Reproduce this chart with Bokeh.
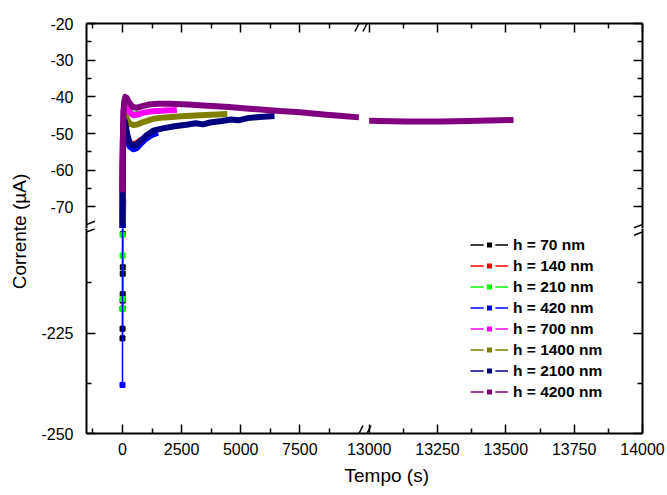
import math
import numpy as np
from bokeh.plotting import figure
from bokeh.models import (Range1d, LinearAxis, FixedTicker, CustomJSTickFormatter,
                          Label, Arrow, Legend, LegendItem)
from bokeh.layouts import row, column
from bokeh.embed import file_html
from bokeh.resources import INLINE

# ---------------- data ----------------
series_names = ["h = 70 nm", "h = 140 nm", "h = 210 nm", "h = 420 nm",
                "h = 700 nm", "h = 1400 nm", "h = 2100 nm", "h = 4200 nm"]
series_colors = ["#000000", "#FF0000", "#00FF00", "#0000FF",
                 "#FF00FF", "#808000", "#000080", "#800080"]

t_70 = [0, 2, 4, 6, 8, 10, 12, 14, 18, 30]
i_70 = [-226.3, -223.9, -218.9, -216.9, -215.3, -210.2, -208.6, -200.3, -75.0, -68.0]

t_140 = [0, 3, 8, 15, 30, 60, 100, 150, 250, 400, 600, 800]
i_140 = [-74.0, -66.0, -58.0, -52.0, -48.0, -47.0, -48.0, -50.0, -52.0, -53.0, -52.6, -51.6]

t_210 = [0, 2, 4, 6, 10, 16, 28, 50, 90, 140, 200, 300, 420, 560, 700]
i_210 = [-219.0, -216.5, -205.7, -200.5, -70.0, -60.0, -50.0, -44.0, -41.6, -41.5, -42.6, -44.0, -44.8, -44.8, -44.5]

t_420 = [0, 4, 10, 20, 40, 80, 130, 200, 300, 450, 600, 800, 1000, 1250, 1500]
i_420 = [-237.9, -72.0, -62.0, -55.0, -50.0, -48.5, -49.5, -51.5, -53.5, -54.3, -54.0, -52.6, -51.4, -50.4, -49.8]

t_700 = [0, 5, 12, 25, 50, 90, 140, 200, 300, 450, 650, 900, 1300, 1800, 2300]
i_700 = [-71.0, -63.0, -55.0, -48.0, -43.5, -41.5, -41.8, -42.8, -44.2, -45.0, -44.8, -44.3, -43.9, -43.7, -43.6]

t_1400 = [0, 5, 12, 25, 50, 90, 140, 220, 330, 480, 650, 900, 1300, 1800, 2500, 3300, 4000, 4430]
i_1400 = [-75.5, -69.0, -61.0, -53.0, -47.5, -45.0, -45.2, -46.5, -47.4, -47.7, -47.5, -46.8, -46.0, -45.6, -45.3, -45.0, -44.8, -44.7]

t_2100 = [0, 5, 12, 25, 50, 90, 140, 200, 300, 450, 600, 800, 1000, 1300, 1700, 2200,
          2700, 3100, 3400, 3700, 4200, 4600, 4900, 5300, 5800, 6430]
i_2100 = [-76.0, -67.0, -59.0, -52.0, -47.5, -46.5, -48.0, -50.2, -52.5, -53.3, -53.0, -51.8,
          -50.6, -49.2, -48.6, -48.0, -47.6, -47.2, -47.5, -47.0, -46.6, -46.2, -46.4, -45.8, -45.5, -45.2]

t_4200 = [0, 5, 12, 25, 45, 75, 120, 180, 280, 420, 600, 800, 1100, 1500, 2000, 2800, 3600,
          4500, 5500, 6500, 7500, 8500, 9300, 10000,
          13000, 13130, 13270, 13400, 13528]
i_4200 = [-66.0, -60.0, -54.0, -48.0, -44.0, -41.2, -40.0, -40.3, -41.6, -42.7, -43.0, -42.6,
          -42.1, -41.9, -41.9, -42.1, -42.4, -42.8, -43.3, -43.8, -44.2, -44.8, -45.2, -45.6,
          -46.5, -46.7, -46.7, -46.5, -46.3]

times = [t_70, t_140, t_210, t_420, t_700, t_1400, t_2100, t_4200]
currents = [i_70, i_140, i_210, i_420, i_700, i_1400, i_2100, i_4200]

x_major_left = [0, 2500, 5000, 7500]
x_minor_left = [-1250, 1250, 3750, 6250, 8750]
x_major_right = [13000, 13250, 13500, 13750, 14000]
x_minor_right = [13125, 13375, 13625, 13875]
y_major_top = [-70, -60, -50, -40, -30, -20]
y_minor_top = [-65, -55, -45, -35, -25]
y_major_bottom = [-250, -225]
y_minor_bottom = [-237.5, -212.5]
x_break = [10000, 13000]

x_title = "Tempo (s)"
y_title = "Corrente (µA)"

# ---------------- layout ----------------
FONT = "Liberation Sans"
TITLE_W = 30
BORDER_L = 56
BORDER_R = 25
BORDER_T = 23
BORDER_B = 27
XTITLE_H = 35
FRAME_W = 556
FRAME_H = 205
FL = TITLE_W + BORDER_L          # frame left in page px
FT = BORDER_T                    # frame top
FM = FT + FRAME_H                # row boundary
FB = FM + FRAME_H                # frame bottom
TOTAL_H = FB + BORDER_B + XTITLE_H
RIGHT_W = BORDER_L + FRAME_W + BORDER_R

# ranges (left segment on main range, right segment on extra range)
X0, X1 = -1522.6, 21992.4
R0, R1 = 11965.8, 14000.0
YT = (-75.9, -20.0)
YB = (-250.0, -198.95)


def P(t):
    return X0 + (t - R0) * (X1 - X0) / (R1 - R0)


def xm(px):
    return X0 + (px - FL) * (X1 - X0) / FRAME_W


def yt(py):
    return YT[1] - (py - FT) * (YT[1] - YT[0]) / FRAME_H


def yb(py):
    return YB[0] + (FB - py) * (YB[1] - YB[0]) / FRAME_H


x_ticker = FixedTicker(ticks=x_major_left + [P(t) for t in x_major_right],
                       minor_ticks=x_minor_left + [P(t) for t in x_minor_right])
x_fmt = CustomJSTickFormatter(args=dict(BRK=float(P(x_break[1]) - 100), X0=X0, X1=X1, R0=R0, R1=R1),
                              code="""
if (tick > BRK) { return String(Math.round(R0 + (tick - X0) * (R1 - R0) / (X1 - X0))); }
return String(Math.round(tick));
""")
y_fmt = CustomJSTickFormatter(code="return String(tick);")
blank_fmt = CustomJSTickFormatter(code="return '';")


def style_axis(ax, labels, standoff=10):
    ax.axis_line_width = 2
    ax.axis_line_color = "black"
    ax.major_tick_in = 9
    ax.major_tick_out = 0
    ax.minor_tick_in = 5
    ax.minor_tick_out = 0
    ax.major_tick_line_width = 1.5
    ax.minor_tick_line_width = 1.5
    ax.major_tick_line_color = "black"
    ax.minor_tick_line_color = "black"
    if labels:
        ax.major_label_text_font = FONT
        ax.major_label_text_font_size = "16px"
        ax.major_label_text_color = "black"
        ax.major_label_standoff = standoff
    else:
        ax.formatter = blank_fmt
        ax.major_label_text_color = None
        ax.major_label_standoff = 0


def make_fig(y_rng, btop, bbot):
    p = figure(frame_width=FRAME_W, frame_height=FRAME_H,
               x_range=Range1d(X0, X1), y_range=Range1d(*y_rng),
               x_axis_location=None, y_axis_location=None,
               toolbar_location=None, output_backend="svg",
               min_border_left=BORDER_L, min_border_right=BORDER_R,
               min_border_top=btop, min_border_bottom=bbot,
               outline_line_color=None)
    p.extra_x_ranges = {"right": Range1d(R0, R1)}
    p.grid.visible = False
    return p


top = make_fig(YT, BORDER_T, 0)
bot = make_fig(YB, 0, BORDER_B)

yt_ticker = FixedTicker(ticks=y_major_top, minor_ticks=y_minor_top)
yb_ticker = FixedTicker(ticks=y_major_bottom, minor_ticks=y_minor_bottom)

ax = LinearAxis(ticker=yt_ticker, formatter=y_fmt); style_axis(ax, True, 13); top.add_layout(ax, "left")
ax = LinearAxis(ticker=yt_ticker); style_axis(ax, False); top.add_layout(ax, "right")
ax = LinearAxis(ticker=x_ticker); style_axis(ax, False); top.add_layout(ax, "above")

ax = LinearAxis(ticker=yb_ticker, formatter=y_fmt); style_axis(ax, True, 13); bot.add_layout(ax, "left")
ax = LinearAxis(ticker=yb_ticker); style_axis(ax, False); bot.add_layout(ax, "right")
ax = LinearAxis(ticker=x_ticker, formatter=x_fmt); style_axis(ax, True, 9); bot.add_layout(ax, "below")

# ---------------- data renderers ----------------
for t, v, c in zip(times, currents, series_colors):
    t = np.array(t, dtype=float)
    v = np.array(v, dtype=float)
    left = t <= x_break[0]
    right = t >= x_break[1]
    top.line(t[left], v[left], line_color=c, line_width=6, line_join="round")
    bot.line(t[left], v[left], line_color=c, line_width=1.5)
    bot.scatter(t[left], v[left], marker="square", size=5, color=c)
    if right.any():
        top.line(t[right], v[right], line_color=c, line_width=6, line_join="round", x_range_name="right")
        bot.line(t[right], v[right], line_color=c, line_width=1.5, x_range_name="right")

# ---------------- legend ----------------
items = []
for name, c in zip(series_names, series_colors):
    lr = bot.line([np.nan, np.nan], [np.nan, np.nan], line_color=c, line_width=1.5)
    sr = bot.scatter([np.nan], [np.nan], marker="square", size=8, fill_color=c,
                     line_color="white", line_width=3.3)
    items.append(LegendItem(label=name, renderers=[lr, sr]))
legend = Legend(items=items, location=(384, 31), padding=0, margin=0, spacing=0,
                glyph_width=38, glyph_height=21, label_height=21, label_standoff=5,
                label_text_font=FONT, label_text_font_style="bold", label_text_font_size="15.5px",
                label_text_color="black", border_line_color=None, background_fill_alpha=0)
bot.add_layout(legend)

# ---------------- break marks ----------------
def brk(p, x0, y0, x1, y1):
    p.add_layout(Arrow(x_start=x0, y_start=y0, x_end=x1, y_end=y1, start=None, end=None,
                       line_color="black", line_width=1.5, level="overlay"))

BX = 362.5
for off in (-4, 4):
    brk(top, xm(BX + off - 4), yt(FT + 8), xm(BX + off + 4), yt(FT - 8))
    brk(bot, xm(BX + off - 4), yb(FB + 8), xm(BX + off + 4), yb(FB - 8))
for axx in (FL, FL + FRAME_W):
    for cy in (FM - 4, FM + 3.5):
        brk(top, xm(axx - 8.5), yt(cy + 3.3), xm(axx + 8.5), yt(cy - 3.3))
        brk(bot, xm(axx - 8.5), yb(cy + 3.3), xm(axx + 8.5), yb(cy - 3.3))


# ---------------- titles ----------------
def title_fig(w, h):
    f = figure(width=w, height=h, x_range=Range1d(0, 1), y_range=Range1d(0, 1),
               x_axis_location=None, y_axis_location=None,
               toolbar_location=None, output_backend="svg",
               min_border=0, min_border_left=0, min_border_right=0,
               min_border_top=0, min_border_bottom=0, outline_line_color=None)
    f.grid.visible = False
    return f


xtf = title_fig(RIGHT_W, XTITLE_H)
xtf.add_layout(Label(x=(374 - TITLE_W) / RIGHT_W, y=1 - (475 - (FB + BORDER_B)) / XTITLE_H,
                     text=x_title, text_align="center", text_baseline="middle",
                     text_font=FONT, text_font_size="19px", text_color="black"))

ytf = title_fig(TITLE_W, TOTAL_H)
ytf.add_layout(Label(x=19 / TITLE_W, y=1 - 231 / TOTAL_H, text=y_title, angle=math.pi / 2,
                     text_align="center", text_baseline="middle", text_font=FONT,
                     text_font_size="19px", text_color="black"))

layout = row(ytf, column(top, bot, xtf))
open("out.html", "w").write(file_html(layout, INLINE))
